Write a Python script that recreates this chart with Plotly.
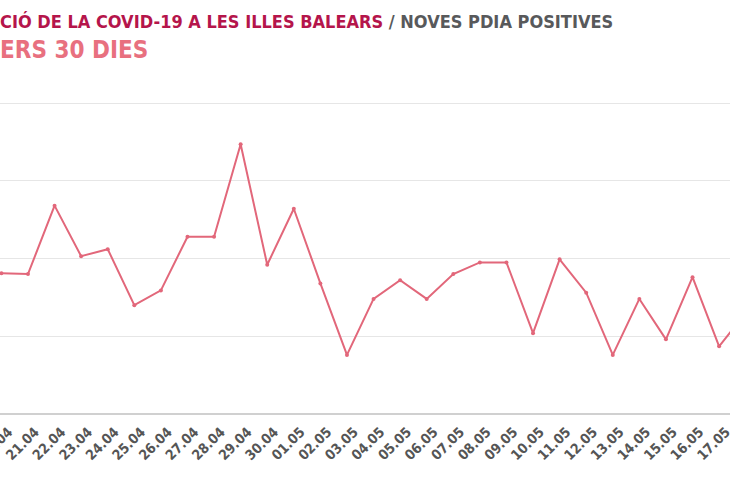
import plotly.graph_objects as go

# daily new positive PCR tests, last 30 days
dates = ["20.04", "21.04", "22.04", "23.04", "24.04", "25.04", "26.04", "27.04",
         "28.04", "29.04", "30.04", "01.05", "02.05", "03.05", "04.05", "05.05",
         "06.05", "07.05", "08.05", "09.05", "10.05", "11.05", "12.05", "13.05",
         "14.05", "15.05", "16.05", "17.05", "18.05"]
new_pcr = [18.1, 18.0, 26.8, 20.3, 21.2, 14.0, 15.9, 22.8,
           22.8, 34.7, 19.2, 26.4, 16.8, 7.6, 14.8, 17.2,
           14.8, 18.0, 19.5, 19.5, 10.4, 19.9, 15.6, 7.6,
           14.8, 9.6, 17.6, 8.7, 13.0]

title_main = "CIÓ DE LA COVID-19 A LES ILLES BALEARS"
title_sub = "/ NOVES PDIA POSITIVES"
title_2 = "ERS 30 DIES"

CRIMSON = "#b5154b"
GREY = "#58595b"
PINK = "#e8707f"
LINE = "#e2677a"
FONT = "DejaVu Sans Condensed, DejaVu Sans"

fig = go.Figure()
fig.add_trace(go.Scatter(
    x=dates, y=new_pcr, mode="lines+markers",
    line=dict(color=LINE, width=2),
    marker=dict(color=LINE, size=4),
    hoverinfo="x+y",
))

fig.update_layout(
    width=730, height=500,
    margin=dict(l=0, r=0, t=101, b=86, autoexpand=False),
    plot_bgcolor="white", paper_bgcolor="white",
    showlegend=False,
    font=dict(family=FONT, color=GREY),
    xaxis=dict(
        type="category", range=[-0.053, 27.41], automargin=False,
        tickangle=-45, showgrid=False,
        tickfont=dict(family=FONT, size=14, color="#555555", weight="bold"),
        ticklabelstandoff=6, ticklabelshift=7,
        showline=False, ticks="",
    ),
    yaxis=dict(
        range=[0, 40.26], dtick=10, showticklabels=False, automargin=False,
        gridcolor="#e6e6e6", gridwidth=1,
        zeroline=True, zerolinecolor="#d0d0d0", zerolinewidth=1.5,
    ),
    annotations=[
        dict(xref="paper", yref="paper", x=-0.003, y=1.255, xanchor="left", yanchor="middle",
             showarrow=False,
             text=f"<b><span style='color:{CRIMSON}'>{title_main}</span> "
                  f"<span style='color:{GREY}'>{title_sub}</span></b>",
             font=dict(family=FONT, size=18)),
        dict(xref="paper", yref="paper", x=-0.003, y=1.162, xanchor="left", yanchor="middle",
             showarrow=False, text=f"<b>{title_2}</b>",
             font=dict(family=FONT, size=24, color=PINK)),
    ],
)

# drop the page's default body margin so the figure sits at the window corner
fig.write_html("out.html", config={"displayModeBar": False},
               post_script="document.body.style.margin = '0';")
